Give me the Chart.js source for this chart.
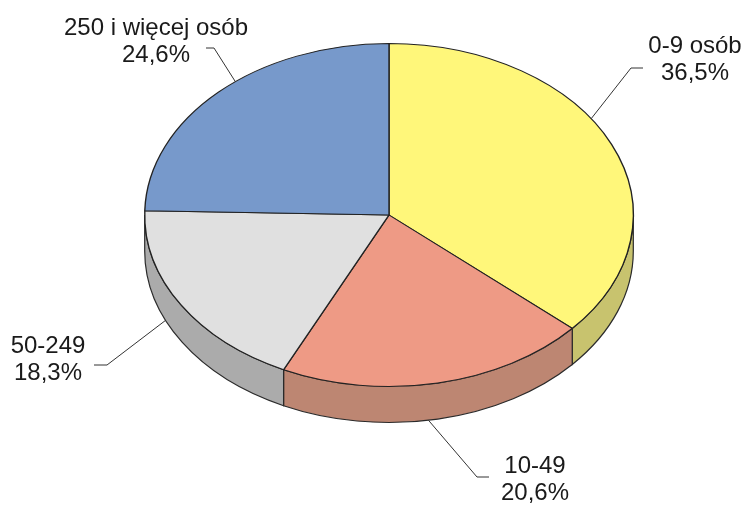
<!DOCTYPE html>
<html lang="pl">
<head>
<meta charset="UTF-8">
<title>Struktura wg wielkości</title>
<script src="https://cdn.jsdelivr.net/npm/chart.js"></script>
<style>
  html, body { margin: 0; padding: 0; background: #fff; }
  canvas { display: block; }
</style>
</head>
<body>
<canvas id="pieChart" width="747" height="506"></canvas>

<script>
// dane
const categories = ['0-9 osób', '10-49', '50-249', '250 i więcej osób'];
const shares = [36.5, 20.6, 18.3, 24.6];

// kolory: wierzch i bok
const topColors = ['#fff77a', '#ee9a85', '#e0e0e0', '#7799cb'];
const sideColors = ['#c8c36e', '#bd8672', '#ababab', '#5f7aa3'];

// układ "3D"
const PIE_CY = 215;   // środek elipsy na ekranie
const TILT = 0.702;   // spłaszczenie pionowe
const DEPTH = 36;     // grubość

// położenie etykiet (tekst + łamanie linii odnośnika)
const labelLayout = [
    { x: 695, y: 53, elbow: [631, 68], end: [643, 68], at: 0.425, side: false },
    { x: 535, y: 473, elbow: [477, 477], end: [489, 477], at: 0.53, side: true },
    { x: 48, y: 353, elbow: [107, 365], end: [94, 365], at: 0.616, side: true },
    { x: 156, y: 35, elbow: [214, 48], end: [206, 48], at: 0.56, side: false }
];

function fmt(v) {
    return v.toFixed(1).replace('.', ',') + '%';
}

const tiltPlugin = {
    id: 'tilt',
    beforeDatasetsDraw(chart) {
        const ctx = chart.ctx;
        const arcs = chart.getDatasetMeta(0).data;
        const cx = arcs[0].x, cy = arcs[0].y;
        const rx = arcs[0].outerRadius, ry = rx * TILT;

        // boki (tylko przednia połowa)
        ctx.save();
        ctx.lineWidth = 1.2;
        ctx.strokeStyle = '#2a2a2a';
        arcs.forEach((arc, i) => {
            const lo = Math.max(arc.startAngle, 0);
            const hi = Math.min(arc.endAngle, Math.PI);
            if (hi <= lo) return;
            ctx.beginPath();
            ctx.ellipse(cx, PIE_CY, rx, ry, 0, lo, hi, false);
            ctx.lineTo(cx + rx * Math.cos(hi), PIE_CY + ry * Math.sin(hi) + DEPTH);
            ctx.ellipse(cx, PIE_CY + DEPTH, rx, ry, 0, hi, lo, true);
            ctx.closePath();
            ctx.fillStyle = sideColors[i];
            ctx.fill();
            ctx.stroke();
        });
        ctx.restore();

        // wierzch: spłaszczenie
        ctx.save();
        ctx.translate(0, PIE_CY);
        ctx.scale(1, TILT);
        ctx.translate(0, -cy);
    },
    afterDatasetsDraw(chart) {
        chart.ctx.restore();
    },
    afterDraw(chart) {
        const ctx = chart.ctx;
        const arcs = chart.getDatasetMeta(0).data;
        const cx = arcs[0].x;
        const rx = arcs[0].outerRadius, ry = rx * TILT;

        ctx.save();
        ctx.strokeStyle = '#333';
        ctx.lineWidth = 1;
        ctx.fillStyle = '#1a1a1a';
        ctx.font = '24px "Liberation Sans", Arial, sans-serif';
        ctx.textAlign = 'center';
        ctx.textBaseline = 'alphabetic';

        arcs.forEach((arc, i) => {
            const L = labelLayout[i];
            const a = arc.startAngle + (arc.endAngle - arc.startAngle) * L.at;
            const ax = cx + rx * Math.cos(a);
            const ay = PIE_CY + ry * Math.sin(a) + (L.side ? DEPTH : 0);
            ctx.beginPath();
            ctx.moveTo(ax, ay);
            ctx.lineTo(L.elbow[0], L.elbow[1]);
            ctx.lineTo(L.end[0], L.end[1]);
            ctx.stroke();

            ctx.fillText(categories[i], L.x, L.y);
            ctx.fillText(fmt(shares[i]), L.x, L.y + 27);
        });
        ctx.restore();
    }
};

new Chart(document.getElementById('pieChart'), {
    type: 'pie',
    data: {
        labels: categories,
        datasets: [{
            data: shares,
            backgroundColor: topColors,
            borderColor: '#222',
            borderWidth: 1.4,
            clip: false
        }]
    },
    options: {
        responsive: false,
        animation: false,
        events: [],
        layout: { padding: { left: 144, right: 113, top: 7, bottom: 8 } },
        plugins: {
            legend: { display: false },
            tooltip: { enabled: false }
        }
    },
    plugins: [tiltPlugin]
});
</script>
</body>
</html>
